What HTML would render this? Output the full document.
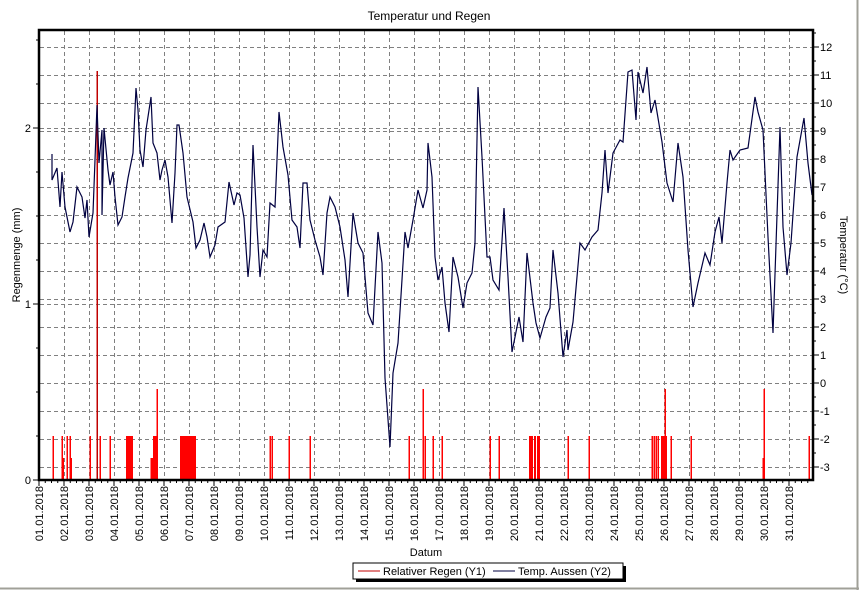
<!DOCTYPE html>
<html><head><meta charset="utf-8"><style>
html,body{margin:0;padding:0;background:#fff;}
svg{display:block;font-family:"Liberation Sans",Arial,sans-serif;}
</style></head><body>
<svg width="859" height="590" viewBox="0 0 859 590" xmlns="http://www.w3.org/2000/svg">
<rect x="0" y="0" width="859" height="590" fill="#fff"/>
<line x1="857.5" y1="0" x2="857.5" y2="590" stroke="#a0a098" stroke-width="2"/>
<line x1="0" y1="588.5" x2="859" y2="588.5" stroke="#a0a098" stroke-width="2"/>
<text x="429" y="20" font-size="12" text-anchor="middle">Temperatur und Regen</text>
<g stroke="#808080" stroke-width="1" stroke-dasharray="4,3" id="grid"></g>
<g id="rain" fill="#ff0000" stroke="none"></g>
<polyline id="temp" fill="none" stroke="#000040" stroke-width="1.2" stroke-linejoin="miter"/>
<g stroke="#000" stroke-width="1" id="ticks"></g>
<rect x="39" y="30" width="774" height="450" fill="none" stroke="#000" stroke-width="2.5"/>
<g font-size="11" id="labels"></g>
<text x="20" y="255" font-size="11" text-anchor="middle" transform="rotate(-90 20 255)">Regenmenge (mm)</text>
<text x="840" y="255" font-size="11" text-anchor="middle" transform="rotate(90 840 255)">Temperatur (°C)</text>
<text x="426" y="556" font-size="11" text-anchor="middle">Datum</text>
<rect x="356" y="566" width="270" height="16" fill="#000"/>
<rect x="353" y="563" width="270" height="16" fill="#fff" stroke="#000" stroke-width="1"/>
<line x1="358" y1="571" x2="380" y2="571" stroke="#c00000"/>
<text x="383" y="575" font-size="11">Relativer Regen (Y1)</text>
<line x1="493" y1="571" x2="515" y2="571" stroke="#000040"/>
<text x="518" y="575" font-size="11">Temp. Aussen (Y2)</text>
<script>
(function(){
var NS="http://www.w3.org/2000/svg";
function el(p,t,a,txt){var e=document.createElementNS(NS,t);for(var k in a)e.setAttribute(k,a[k]);if(txt!=null)e.textContent=txt;document.getElementById(p).appendChild(e);return e;}
for(var d=1;d<=31;d++){var x=39+25*(d-1)+0.5;if(d>1)el("grid","line",{x1:x,y1:31,x2:x,y2:479});}
for(var t=-3;t<=12;t++){var y=467-(t+3)*28+0.5;el("grid","line",{x1:40,y1:y,x2:812,y2:y});}
[1,2].forEach(function(v){var y=480-176*v+0.5;el("grid","line",{x1:40,y1:y,x2:812,y2:y});});
for(var i=0;i<=124;i++){var x=39+6.25*i;if(x>812)break;var L=(i%4==0)?6:3;el("ticks","line",{x1:x,y1:480,x2:x,y2:480+L});}
for(var v=0;v<=2.5;v+=0.25){var y=480-176*v;if(y<30)break;var L=(Math.abs(v-Math.round(v))<0.01)?6:3;el("ticks","line",{x1:39-L,y1:y,x2:39,y2:y});}
for(var t=-3.5;t<=12.5;t+=0.5){var y=467-(t+3)*28;if(y<30||y>480)continue;var L=(t%1==0)?6:3;el("ticks","line",{x1:813,y1:y,x2:813+L,y2:y});}
[0,1,2].forEach(function(v){el("labels","text",{x:31,y:480-176*v+4,"text-anchor":"end"},String(v));});
for(var t=-3;t<=12;t++){el("labels","text",{x:820,y:467-(t+3)*28+4},String(t));}
for(var d=1;d<=31;d++){var x=39+25*(d-1)+4;var s=(d<10?"0":"")+d+".01.2018";el("labels","text",{x:x,y:486,"text-anchor":"end",transform:"rotate(-90 "+x+" 486)"},s);}
var r=[[53,436],[62,436],[63,458],[67,436],[70,436],[71,458],[90,436],[97,71],[100,436],[110,436],[151,458],[152,458],[157,389],[195,436],[270,436],[272,436],[289,436],[310,436],[409,436],[423,389],[425,436],[433,436],[442,436],[490,436],[499,436],[568,436],[589,436],[652,436],[654,436],[656,436],[658,436],[665,389],[671,436],[691,436],[764,389],[763,458],[809,436]];
r.forEach(function(p){el("rain","rect",{x:p[0]-0.5,y:p[1],width:1.5,height:480-p[1],fill:p[1]<300?"#c00000":"#ff0000"});});
[[126,132],[153,157],[180,194],[529,532],[534,535],[537,539],[661,666]].forEach(function(b){el("rain","rect",{x:b[0],y:436,width:b[1]-b[0]+1,height:44});});
var pts=[[52,154],[52,180],[57,168],[60,207],[62,172],[65,207],[70,232],[73,222],[77,187],[82,197],[85,218],[87,200],[89,237],[93,213],[95,160],[97,105],[99,163],[102,130],[102,215],[104,128],[108,170],[110,185],[113,172],[115,197],[118,225],[122,217],[125,197],[128,178],[133,153],[136,88],[138,110],[140,150],[143,167],[146,130],[151,97],[153,143],[157,153],[160,180],[162,170],[165,160],[168,177],[172,223],[175,173],[177,125],[179,125],[183,153],[187,197],[193,222],[196,248],[200,240],[204,223],[207,237],[210,257],[215,245],[218,227],[225,222],[229,182],[234,205],[237,193],[240,195],[244,218],[248,277],[250,255],[253,145],[257,227],[260,277],[263,250],[267,257],[270,203],[275,207],[279,112],[283,147],[288,175],[292,220],[297,227],[300,248],[303,183],[307,183],[310,220],[315,240],[320,257],[323,275],[327,213],[330,197],[335,207],[340,227],[345,260],[348,297],[353,213],[358,243],[363,253],[368,313],[373,325],[378,232],[382,263],[385,378],[390,447],[393,373],[398,343],[405,232],[408,248],[413,220],[418,190],[423,208],[427,190],[428,143],[432,177],[435,257],[438,280],[442,267],[445,303],[449,332],[453,257],[458,277],[463,308],[467,283],[472,273],[475,243],[478,87],[482,157],[487,257],[490,257],[493,280],[499,290],[504,208],[508,277],[512,352],[519,317],[523,342],[527,253],[533,303],[536,323],[540,338],[546,317],[550,308],[553,250],[558,293],[563,357],[567,330],[568,350],[573,322],[580,243],[585,250],[592,237],[598,230],[602,193],[605,150],[608,193],[613,153],[620,140],[623,142],[628,72],[632,70],[636,120],[638,72],[643,93],[647,67],[651,113],[655,100],[662,142],[667,183],[673,202],[678,143],[683,177],[688,250],[693,307],[698,283],[705,253],[710,265],[715,232],[719,217],[722,243],[727,183],[730,150],[733,160],[740,150],[748,148],[755,97],[758,112],[763,130],[768,237],[773,333],[780,127],[783,227],[787,275],[791,243],[797,157],[804,118],[808,163],[812,195]];
document.getElementById("temp").setAttribute("points",pts.map(function(p){return p.join(",");}).join(" "));
})();
</script>
</svg>
</body></html>
